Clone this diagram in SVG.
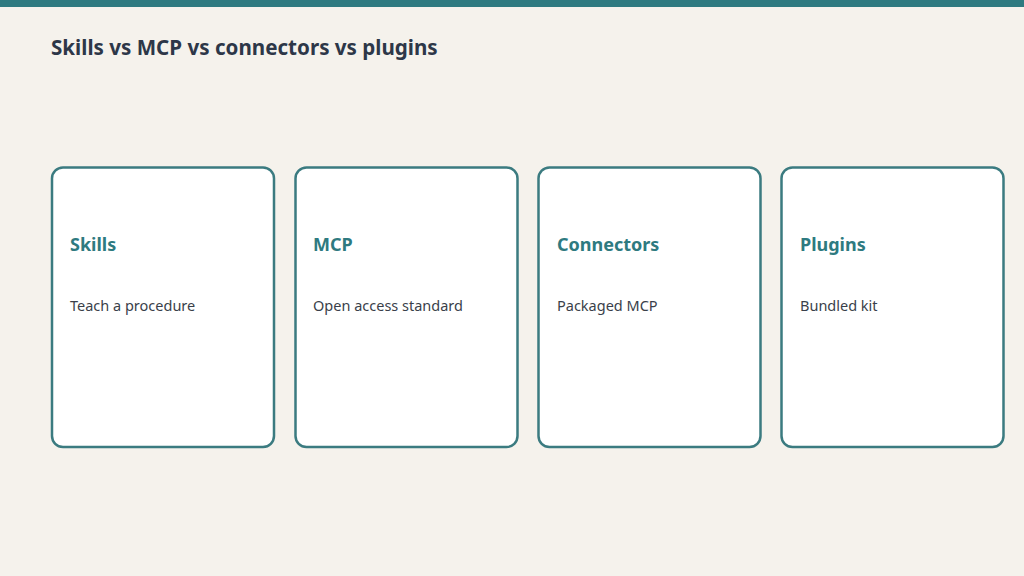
<svg xmlns="http://www.w3.org/2000/svg" width="1024" height="576" viewBox="0 0 1024 576">
<style>
.card{fill:#ffffff;stroke:#3b7b80;stroke-width:2.5}
.title{font-family:"Noto Sans","Open Sans",sans-serif;font-weight:700;font-size:20.6px;fill:#2d3748}
.head{font-family:"Noto Sans","Open Sans",sans-serif;font-weight:700;font-size:18px;fill:#2e7a80}
.desc{font-family:"Noto Sans","Open Sans",sans-serif;font-size:14.5px;fill:#3a3f4a}
</style>
<rect x="0" y="0" width="1024" height="576" fill="#f5f2ec"/>
<rect x="0" y="0" width="1024" height="7" fill="#2e7a80"/>
<text class="title" x="51" y="55">Skills vs MCP vs connectors vs plugins</text>
<g id="node-skills">
<rect class="card" x="52" y="167.5" width="222" height="279.5" rx="11"/>
<text class="head" x="70" y="251">Skills</text>
<text class="desc" x="70" y="311">Teach a procedure</text>
</g>
<g id="node-mcp">
<rect class="card" x="295.5" y="167.5" width="222" height="279.5" rx="11"/>
<text class="head" x="313" y="251">MCP</text>
<text class="desc" x="313" y="311">Open access standard</text>
</g>
<g id="node-connectors">
<rect class="card" x="538.5" y="167.5" width="222" height="279.5" rx="11"/>
<text class="head" x="557" y="251">Connectors</text>
<text class="desc" x="557" y="311">Packaged MCP</text>
</g>
<g id="node-plugins">
<rect class="card" x="781.5" y="167.5" width="222" height="279.5" rx="11"/>
<text class="head" x="800" y="251">Plugins</text>
<text class="desc" x="800" y="311">Bundled kit</text>
</g>
<g id="connectors"></g>
</svg>
